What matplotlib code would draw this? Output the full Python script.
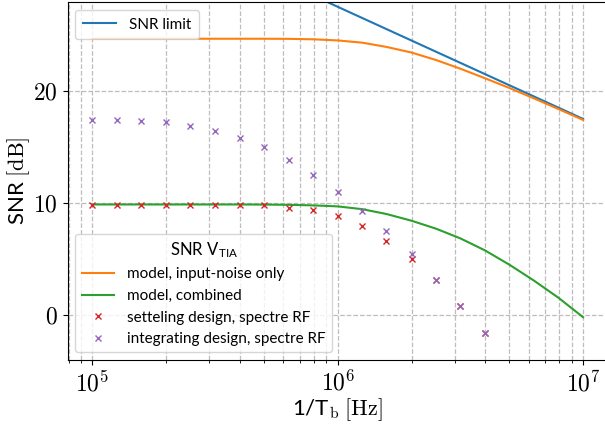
import numpy as np
import matplotlib
matplotlib.use("Agg")
import matplotlib.pyplot as plt
from matplotlib.ticker import FuncFormatter

plt.rcParams['font.family'] = ['Lato', 'DejaVu Sans']
plt.rcParams['mathtext.fontset'] = 'cm'

# bit rate sweep, 1/T_b in Hz
freq = [1.00e5, 1.26e5, 1.58e5, 2.00e5, 2.51e5, 3.16e5, 3.98e5, 5.01e5,
        6.31e5, 7.94e5, 1.00e6, 1.26e6, 1.58e6, 2.00e6, 2.51e6, 3.16e6,
        3.98e6, 5.01e6, 6.31e6, 7.94e6, 1.00e7]

# theoretical SNR limit (straight line on the log axis)
limit_freq = [1e5, 1e7]
snr_limit = [37.5, 17.5]

# model curves [dB]
snr_input_only = [24.65, 24.65, 24.65, 24.65, 24.65, 24.65, 24.65, 24.65,
                  24.64, 24.60, 24.50, 24.30, 23.92, 23.42, 22.76, 21.98,
                  21.13, 20.26, 19.33, 18.38, 17.41]
snr_combined = [9.87, 9.87, 9.87, 9.87, 9.87, 9.87, 9.87, 9.86,
                9.84, 9.79, 9.70, 9.45, 9.02, 8.42, 7.72, 6.85,
                5.78, 4.50, 3.08, 1.55, -0.18]

# spectre RF simulation results [dB]
snr_settling = [9.82, 9.82, 9.82, 9.82, 9.82, 9.82, 9.82, 9.80, 9.60,
                9.35, 8.81, 7.92, 6.64, 4.97, 3.10, 0.84, -1.60]
snr_integrating = [17.42, 17.40, 17.30, 17.20, 16.90, 16.40, 15.80, 15.00,
                   13.80, 12.50, 10.98, 9.29, 7.47, 5.42, 3.16, 0.84, -1.60,
                   -4.25]

W, H = 605, 425
# axes reaches the right edge of the canvas; keep 245.35 px per decade
ax_left, ax_right = 67.8, 605.0
decade_px = 245.35

fig = plt.figure(figsize=(W / 100, H / 100), dpi=100)
ax = fig.add_axes([ax_left / W, 65 / H, (ax_right - ax_left) / W, 357.7 / H])

l_lim, = ax.plot(limit_freq, snr_limit, color='tab:blue', lw=1.5,
                 label='SNR limit')
l_in, = ax.plot(freq, snr_input_only, color='tab:orange', lw=1.5,
                label='model, input-noise only')
l_comb, = ax.plot(freq, snr_combined, color='tab:green', lw=1.5,
                  label='model, combined')
m_set, = ax.plot(freq[:len(snr_settling)], snr_settling, 'x', color='tab:red',
                 ms=5, label='setteling design, spectre RF')
m_int, = ax.plot(freq[:len(snr_integrating)], snr_integrating, 'x',
                 color='tab:purple', ms=5,
                 label='integrating design, spectre RF')

ax.set_xscale('log')
ax.set_xlim(10 ** 4.9, 10 ** (4.9 + (ax_right - ax_left) / decade_px))
ax.set_ylim(-4.0, 27.9)
ax.set_yticks([0, 10, 20])
ax.spines['right'].set_visible(False)

ax.xaxis.set_major_formatter(
    FuncFormatter(lambda v, _: r'$10^{%d}$' % int(round(np.log10(v)))))
ax.yaxis.set_major_formatter(FuncFormatter(lambda v, _: r'$%d$' % v))
ax.tick_params(axis='both', which='major', labelsize=17)

ax.grid(True, which='major', axis='both', ls='--', lw=0.9, color='#bdbdbd')
ax.grid(True, which='minor', axis='x', ls='--', lw=0.9, color='#bdbdbd')
ax.set_axisbelow(True)

# center the x label on the 1e5..1e7 span
ax.set_xlabel(r'1/T$_\mathrm{b}$ $[\mathrm{Hz}]$', fontsize=16)
ax.xaxis.set_label_coords((337.7 - ax_left) / (ax_right - ax_left), -0.1)
ax.set_ylabel(r'SNR $[\mathrm{dB}]$', fontsize=16, labelpad=1)

leg1 = ax.legend(handles=[l_lim], loc='upper left', fontsize=11,
                 handlelength=2.15, handletextpad=0.85, borderpad=0.5)
ax.add_artist(leg1)
ax.legend(handles=[l_in, l_comb, m_set, m_int], loc='lower left',
          fontsize=11, title=r'SNR V$_{\mathregular{TIA}}$',
          title_fontsize=12, handlelength=2.15, handletextpad=0.85)

fig.savefig('out.png', dpi=100)
